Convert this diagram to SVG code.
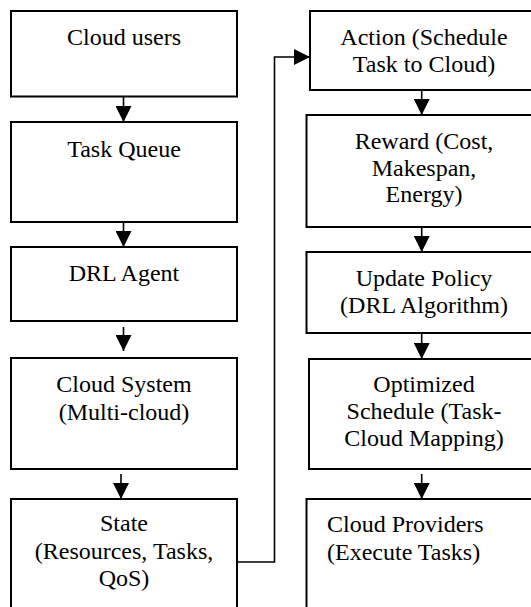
<svg xmlns="http://www.w3.org/2000/svg" width="531" height="607" viewBox="0 0 531 607">
<defs>
<style>
.box{fill:#fff;stroke:#000;stroke-width:2}
.t{text-anchor:middle}
.c{fill:none;stroke:#000;stroke-width:1.6}
</style>
<marker id="ah" markerWidth="16" markerHeight="16" viewBox="0 0 16 16" refX="16" refY="8" orient="auto" markerUnits="userSpaceOnUse">
<path d="M0,0 L16,8 L0,16 Z" fill="#000"/>
</marker>
</defs>
<rect width="531" height="607" fill="#fff"/>
<g font-family="Liberation Serif, Times New Roman, serif" font-size="24" fill="#000">
<g id="n-cloud-users"><rect class="box" x="11" y="11" width="226" height="85.5"/><text class="t" x="124" y="45">Cloud users</text></g>
<g id="n-task-queue"><rect class="box" x="11" y="122" width="226" height="100"/><text class="t" x="124" y="157">Task Queue</text></g>
<g id="n-drl-agent"><rect class="box" x="11" y="247" width="226" height="74"/><text class="t" x="124" y="281">DRL Agent</text></g>
<g id="n-cloud-system"><rect class="box" x="11" y="358" width="226" height="111"/><text class="t" x="124" y="392">Cloud System</text><text class="t" x="124" y="419.5">(Multi-cloud)</text></g>
<g id="n-state"><rect class="box" x="11" y="499" width="226" height="120"/><text class="t" x="124" y="531">State</text><text class="t" x="124" y="558.5">(Resources, Tasks,</text><text class="t" x="124" y="586">QoS)</text></g>
<g id="n-action"><rect class="box" x="310" y="11" width="230" height="79"/><text class="t" x="424" y="45">Action (Schedule</text><text class="t" x="424" y="72">Task to Cloud)</text></g>
<g id="n-reward"><rect class="box" x="306.5" y="115" width="234" height="112"/><text class="t" x="424" y="148.5">Reward (Cost,</text><text class="t" x="424" y="175.5">Makespan,</text><text class="t" x="424" y="202">Energy)</text></g>
<g id="n-update"><rect class="box" x="306.5" y="252" width="234" height="81"/><text class="t" x="424" y="286">Update Policy</text><text class="t" x="424" y="313">(DRL Algorithm)</text></g>
<g id="n-optimized"><rect class="box" x="309" y="359" width="231" height="110"/><text class="t" x="424" y="391.5">Optimized</text><text class="t" x="424" y="418.5">Schedule (Task-</text><text class="t" x="424" y="446">Cloud Mapping)</text></g>
<g id="n-providers"><rect class="box" x="306.5" y="499" width="234" height="120"/><text x="327" y="532">Cloud Providers</text><text x="327" y="560">(Execute Tasks)</text></g>
</g>
<g id="connectors">
<line class="c" x1="123.5" y1="96.5" x2="123.5" y2="122" marker-end="url(#ah)"/>
<line class="c" x1="123.5" y1="222" x2="123.5" y2="247" marker-end="url(#ah)"/>
<line class="c" x1="123.5" y1="327" x2="123.5" y2="351" marker-end="url(#ah)"/>
<line class="c" x1="121" y1="474" x2="121" y2="499" marker-end="url(#ah)"/>
<polyline class="c" points="237,562 274.5,562 274.5,57 310,57" marker-end="url(#ah)"/>
<line class="c" x1="421.7" y1="90" x2="421.7" y2="115" marker-end="url(#ah)"/>
<line class="c" x1="421.7" y1="227" x2="421.7" y2="252" marker-end="url(#ah)"/>
<line class="c" x1="421.7" y1="333" x2="421.7" y2="359" marker-end="url(#ah)"/>
<line class="c" x1="421.7" y1="474" x2="421.7" y2="499" marker-end="url(#ah)"/>
</g>
</svg>
